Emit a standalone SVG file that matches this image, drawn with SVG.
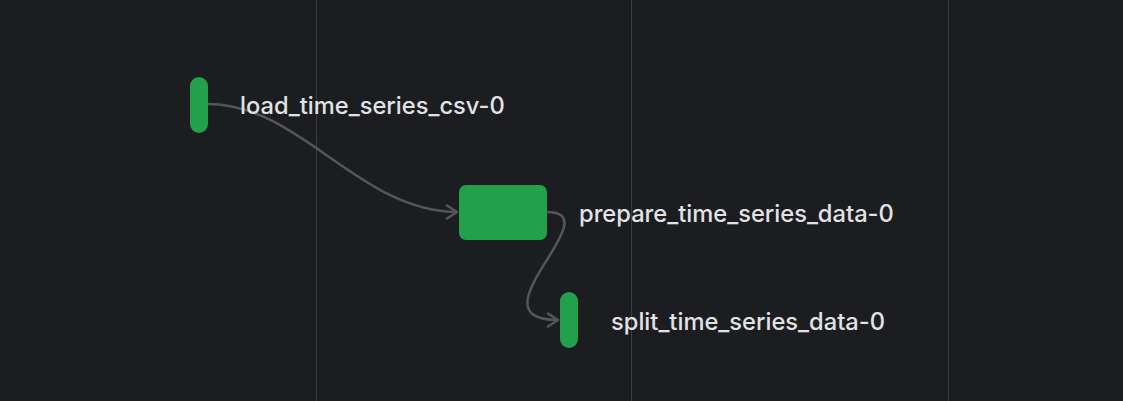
<svg xmlns="http://www.w3.org/2000/svg" width="1123" height="401" viewBox="0 0 1123 401">
<defs>
<style>
.grid{stroke:#3b3c42;stroke-width:1}
.node{fill:#22a04b}
.edge{fill:none;stroke:#55565d;stroke-width:2.5}
.label{font-family:Inter,"Noto Sans",sans-serif;font-size:23.7px;font-weight:500;fill:#e2e2e4}
</style>
<marker id="arrow" viewBox="0 0 16 16" refX="14" refY="8" markerWidth="16" markerHeight="16" markerUnits="userSpaceOnUse" orient="auto">
<path d="M4,1.5 L14,8 L4,14.5" fill="none" stroke="#55565d" stroke-width="2.5" stroke-linecap="round" stroke-linejoin="round"/>
</marker>
</defs>
<rect width="1123" height="401" fill="#1c1d21"/>
<g id="grid">
<line class="grid" x1="316.5" y1="0" x2="316.5" y2="401"/>
<line class="grid" x1="631.5" y1="0" x2="631.5" y2="401"/>
<line class="grid" x1="948.5" y1="0" x2="948.5" y2="401"/>
</g>
<g id="connectors">
<path class="edge" d="M208,104 C300,104 360,212 457,212" marker-end="url(#arrow)"/>
<path class="edge" d="M547,212 C612,212 468,320 558,320" marker-end="url(#arrow)"/>
</g>
<g id="node-load">
<rect class="node" x="190" y="77" width="18" height="56" rx="9"/>
<text class="label" x="240" y="114">load_time_series_csv-0</text>
</g>
<g id="node-prepare">
<rect class="node" x="459" y="185" width="88" height="55" rx="7"/>
<text class="label" x="579" y="222">prepare_time_series_data-0</text>
</g>
<g id="node-split">
<rect class="node" x="560" y="292" width="18" height="56" rx="9"/>
<text class="label" x="611" y="330">split_time_series_data-0</text>
</g>
</svg>
